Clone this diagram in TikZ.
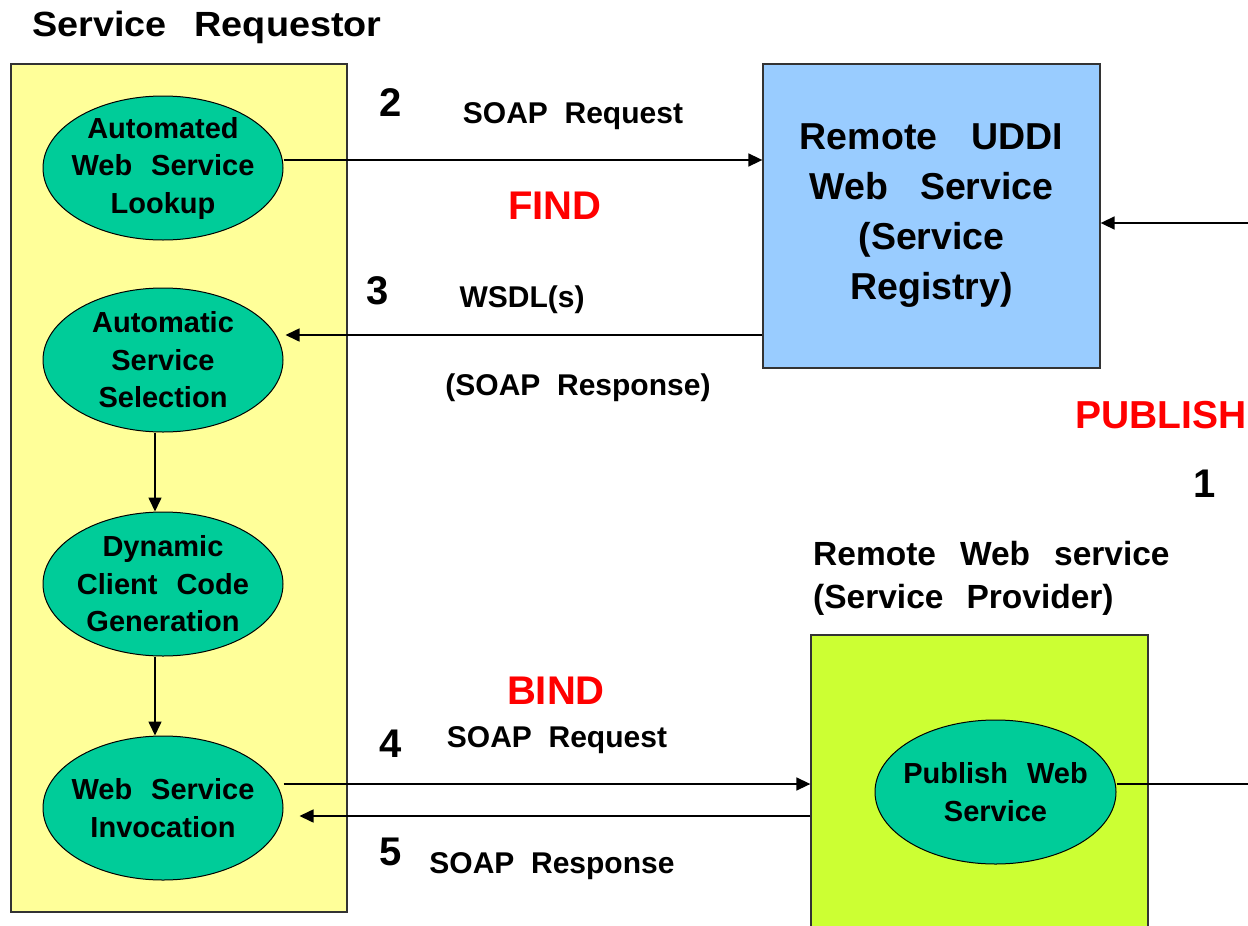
\documentclass[tikz,border=0pt]{standalone}
\usepackage{fontspec}
\setmainfont{Liberation Sans}
\usetikzlibrary{shapes.geometric,arrows.meta}
\newcommand\fsz[2]{\fontsize{#1}{#2}\selectfont\bfseries}
\definecolor{reqfill}{HTML}{FFFF99}
\definecolor{regfill}{HTML}{99CCFF}
\definecolor{provfill}{HTML}{CCFF33}
\definecolor{procfill}{HTML}{00CC99}
\definecolor{edge}{HTML}{333333}
\tikzset{
  box/.style={rectangle, draw=edge, line width=1.3pt, inner sep=0pt},
  proc/.style={ellipse, draw=black, line width=1pt, fill=procfill, minimum width=240pt, minimum height=144pt, inner sep=0pt},
  plabel/.style={inner sep=0pt, align=center, font=\fsz{29}{37.5}},
  arr/.style={line width=1.6pt, -{Triangle[length=14pt,width=13pt]}},
  conn/.style={line width=1.6pt},
  lbl/.style={inner sep=0pt, font=\fsz{30}{36}},
  num/.style={inner sep=0pt, font=\fsz{40}{44}},
  verb/.style={inner sep=0pt, text=red, font=\fsz{40}{44}}
}
\begin{document}
\begin{tikzpicture}[x=1pt,y=-1pt]
\useasboundingbox (0,0) rectangle (1248,926);
\clip (0,0) rectangle (1248,926);
\fill[white] (0,0) rectangle (1248,926);
% containers
\node[box, fill=reqfill, minimum width=336pt, minimum height=848pt] (req) at (179,488) {};
\node[box, fill=regfill, minimum width=337pt, minimum height=304pt, align=center, font=\fsz{37.5}{50}] (reg) at (931.5,216) {Remote\hspace{34pt}UDDI\\Web\hspace{32pt}Service\\(Service\\Registry)};
\node[box, fill=provfill, minimum width=337pt, minimum height=330pt] (prov) at (979.5,800) {};
% titles
\node[inner sep=0pt, anchor=west, font={\fsz{35}{40}\addfontfeature{FakeStretch=1.08}}] (reqtitle) at (32,27) {Service\hspace{28pt}Requestor};
\node[inner sep=0pt, anchor=north west, align=left, font=\fsz{33.5}{43}] (provtitle) at (813,541) {Remote\hspace{24pt}Web\hspace{24pt}service\\(Service\hspace{23pt}Provider)};
% processes
\node[proc, label={[plabel]center:Automated\\Web\hspace{19pt}Service\\Lookup}] (e1) at (163,168) {};
\node[proc, label={[plabel]center:Automatic\\Service\\Selection}] (e2) at (163,360) {};
\node[proc, label={[plabel]center:Dynamic\\Client\hspace{19pt}Code\\Generation}] (e3) at (163,584) {};
\node[proc, label={[plabel]center:Web\hspace{19pt}Service\\Invocation}] (e4) at (163,808) {};
\node[proc, minimum width=241pt, label={[plabel]center:Publish\hspace{19pt}Web\\Service}] (pub) at (995.5,792) {};
% labels
\node[num] (n2) at (391,103) {2};
\node[lbl] (l2) at (573,116) {SOAP\ \ Request};
\node[verb] (find) at (555,206) {FIND};
\node[num] (n3) at (378,291) {3};
\node[lbl] (l3) at (522,300) {WSDL(s)};
\node[lbl] (l3b) at (578,388) {(SOAP\ \ Response)};
\node[verb, anchor=east, font=\fsz{39}{44}] (publish) at (1247,415) {PUBLISH};
\node[num] (n1) at (1205,484) {1};
\node[verb] (bind) at (556,691) {BIND};
\node[num] (n4) at (391,744) {4};
\node[lbl] (l4) at (557,740) {SOAP\ \ Request};
\node[num] (n5) at (391,852) {5};
\node[lbl] (l5) at (552,866) {SOAP\ \ Response};
% connectors
\coordinate (pubin) at (1248,223);
\coordinate (pubend) at (1248,784);
\draw[arr] (e1.east |- 0,160) -- (reg.west |- 0,160);
\draw[arr, shorten >=2pt] (reg.west |- 0,335) -- (e2.east |- 0,335);
\draw[arr] ([xshift=-8pt]e2.south) -- ([xshift=-8pt]e3.north);
\draw[arr] ([xshift=-8pt]e3.south) -- ([xshift=-8pt]e4.north);
\draw[arr] (e4.east |- 0,784) -- (prov.west |- 0,784);
\draw[arr, shorten >=16pt] (prov.west |- 0,816) -- (e4.east |- 0,816);
\draw[conn] (pub.east |- 0,784) -- (pubend);
\draw[arr] (pubin) -- (reg.east |- 0,223);
\end{tikzpicture}
\end{document}
